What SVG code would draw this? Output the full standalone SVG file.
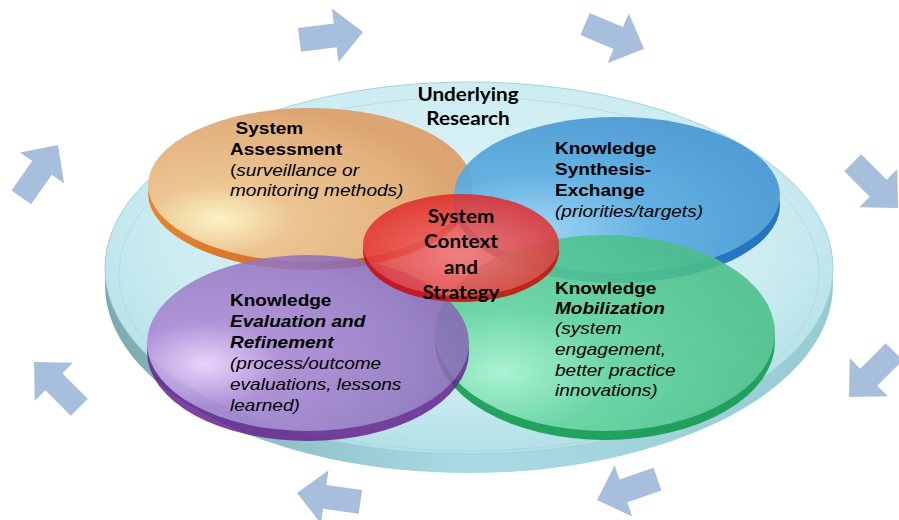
<svg xmlns="http://www.w3.org/2000/svg" width="899" height="520" viewBox="0 0 899 520">
<defs>
<style>
.t{font-family:"Liberation Sans",Arial,sans-serif;font-size:17px;fill:#000}
.b{font-weight:bold}
.i{font-style:italic}
.c{font-family:Lato,"Open Sans",sans-serif;font-weight:bold;font-size:18.5px;fill:#000;text-anchor:middle}
.arrow{fill:#a7bfdd}
</style>
<path id="arr" d="M0,0 L-28,-27 L-28,-12 L-64,-12 L-64,12 L-28,12 L-28,27 Z"/>
<radialGradient id="gPlat" cx="50%" cy="40%" r="60%">
<stop offset="0" stop-color="#e2f6f9"/><stop offset="0.7" stop-color="#cbecf1"/><stop offset="1" stop-color="#b3dfe7"/>
</radialGradient>
<linearGradient id="gPlatRim" x1="0" y1="0" x2="1" y2="0">
<stop offset="0" stop-color="#7aaab0"/><stop offset="0.5" stop-color="#aadbe2"/><stop offset="1" stop-color="#98cad1"/>
</linearGradient>
<radialGradient id="gOr" cx="0.22" cy="0.72" r="0.75">
<stop offset="0" stop-color="#fbf3c4"/><stop offset="0.3" stop-color="#ecc592"/><stop offset="0.8" stop-color="#e3b27e"/><stop offset="1" stop-color="#dca472"/>
</radialGradient>
<linearGradient id="gOrRim" x1="0" y1="0" x2="1" y2="0">
<stop offset="0" stop-color="#e8842f"/><stop offset="1" stop-color="#b0521a"/>
</linearGradient>
<radialGradient id="gBl" cx="0.25" cy="0.72" r="0.8">
<stop offset="0" stop-color="#9ad4f5"/><stop offset="0.45" stop-color="#5cace1"/><stop offset="1" stop-color="#4898d3"/>
</radialGradient>
<radialGradient id="gPu" cx="0.18" cy="0.62" r="0.8">
<stop offset="0" stop-color="#f0d2ff"/><stop offset="0.3" stop-color="#ab85d4"/><stop offset="0.8" stop-color="#9474c0"/><stop offset="1" stop-color="#8666b3"/>
</radialGradient>
<radialGradient id="gGr" cx="0.2" cy="0.7" r="0.8">
<stop offset="0" stop-color="#a6f3d0"/><stop offset="0.4" stop-color="#5fd39c"/><stop offset="1" stop-color="#4bbf88"/>
</radialGradient>
<radialGradient id="gRe" cx="0.5" cy="0.6" r="0.6">
<stop offset="0" stop-color="#f27070"/><stop offset="0.6" stop-color="#e84646"/><stop offset="1" stop-color="#de2a2a"/>
</radialGradient>
</defs>

<g id="arrows">
<use href="#arr" class="arrow" transform="translate(363,32) rotate(-7)"/>
<use href="#arr" class="arrow" transform="translate(644,49) rotate(23)"/>
<use href="#arr" class="arrow" transform="translate(898,208) rotate(45)"/>
<use href="#arr" class="arrow" transform="translate(849,397) rotate(135)"/>
<use href="#arr" class="arrow" transform="translate(597,500) rotate(161)"/>
<use href="#arr" class="arrow" transform="translate(297,493) rotate(188)"/>
<use href="#arr" class="arrow" transform="translate(34,362) rotate(225)"/>
<use href="#arr" class="arrow" transform="translate(58,145) rotate(-55)"/>
</g>

<g id="underlying-research">
<ellipse cx="469" cy="285" rx="364" ry="188" fill="url(#gPlatRim)"/>
<ellipse cx="469" cy="268" rx="364" ry="186" fill="url(#gPlat)" stroke="#a4d3db" stroke-width="1"/>
<ellipse cx="469" cy="274" rx="350" ry="177" fill="none" stroke="#9fcbd3" stroke-width="1" opacity="0.45"/>
<g transform="translate(468,0) scale(1.12,1)">
<text class="c" x="0" y="101">Underlying</text>
<text class="c" x="0" y="125">Research</text>
</g>
</g>

<g id="system-assessment">
<ellipse cx="310" cy="193" rx="162" ry="77" fill="url(#gOrRim)"/>
<ellipse cx="310" cy="185" rx="162" ry="77" fill="url(#gOr)"/>
</g>

<g id="knowledge-synthesis" opacity="0.93">
<ellipse cx="617" cy="205" rx="163" ry="78" fill="#1a6cbf"/>
<ellipse cx="617" cy="195" rx="163" ry="78" fill="url(#gBl)"/>
</g>

<g id="knowledge-mobilization" opacity="0.88">
<ellipse cx="605" cy="342" rx="170" ry="98" fill="#0f9a4c"/>
<ellipse cx="605" cy="333" rx="170" ry="98" fill="url(#gGr)"/>
</g>

<g id="knowledge-evaluation" opacity="0.86">
<ellipse cx="308" cy="352" rx="161" ry="89" fill="#66268f"/>
<ellipse cx="308" cy="343" rx="161" ry="88" fill="url(#gPu)"/>
</g>

<g id="system-context" opacity="0.86">
<ellipse cx="461" cy="251" rx="98" ry="51" fill="#cc0a0a"/>
<ellipse cx="461" cy="245" rx="98" ry="51" fill="url(#gRe)"/>
</g>

<g id="labels">
<g transform="translate(230,0) scale(1.12,1)">
<text class="t b" x="5" y="134">System</text>
<text class="t b" x="0" y="155">Assessment</text>
<text class="t" x="0" y="176">(<tspan class="i">surveillance or</tspan></text>
<text class="t i" x="0" y="196">monitoring methods)</text>
</g>
<g transform="translate(555,0) scale(1.12,1)">
<text class="t b" x="0" y="154">Knowledge</text>
<text class="t b" x="0" y="175">Synthesis-</text>
<text class="t b" x="0" y="196">Exchange</text>
<text class="t i" x="0" y="217">(priorities/targets)</text>
</g>
<g transform="translate(230,0) scale(1.12,1)">
<text class="t b" x="0" y="306">Knowledge</text>
<text class="t b i" x="0" y="327">Evaluation and</text>
<text class="t b i" x="0" y="348">Refinement</text>
<text class="t i" x="0" y="369">(process/outcome</text>
<text class="t i" x="0" y="390">evaluations, lessons</text>
<text class="t i" x="0" y="411">learned)</text>
</g>
<g transform="translate(555,0) scale(1.12,1)">
<text class="t b" x="0" y="294">Knowledge</text>
<text class="t b i" x="0" y="314">Mobilization</text>
<text class="t i" x="0" y="334">(system</text>
<text class="t i" x="0" y="355">engagement,</text>
<text class="t i" x="0" y="376">better practice</text>
<text class="t i" x="0" y="396">innovations)</text>
</g>
<g transform="translate(461,0) scale(1.12,1)">
<text class="c" x="0" y="223">System</text>
<text class="c" x="0" y="248">Context</text>
<text class="c" x="0" y="274">and</text>
<text class="c" x="0" y="299">Strategy</text>
</g>
</g>
</svg>
